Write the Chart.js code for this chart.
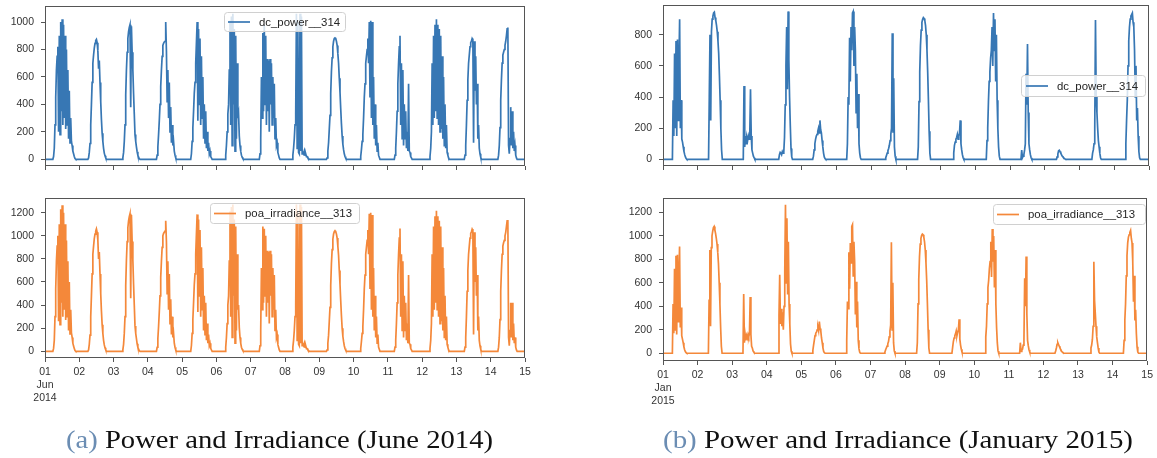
<!DOCTYPE html>
<html><head><meta charset="utf-8">
<script src="https://cdn.jsdelivr.net/npm/chart.js@4.4.1/dist/chart.umd.min.js"></script>
<style>
html,body{margin:0;padding:0;background:#fff;}
body{width:1157px;height:458px;overflow:hidden;position:relative;}
canvas{position:absolute;left:0;top:-30px;}
.cap{position:absolute;font-family:'Liberation Serif','Times New Roman',serif;font-size:26px;line-height:26px;white-space:nowrap;color:#111;transform-origin:0 0;}
.cap .lab{color:#6b8db3;}
</style></head>
<body>
<canvas id="cA" width="1157" height="488"></canvas>
<canvas id="cB" width="1157" height="488"></canvas>
<canvas id="cC" width="1157" height="488"></canvas>
<canvas id="cD" width="1157" height="488"></canvas>
<div class="cap" id="capA" data-w="427" style="left:66px;top:427px;"><span class="lab">(a)</span> Power and Irradiance (June 2014)</div>
<div class="cap" id="capB" data-w="470" style="left:663px;top:427px;"><span class="lab">(b)</span> Power and Irradiance (January 2015)</div>
<script>
// ---- DATA (each day: [first sample hour, values every half hour ...]) ----
const STEP_HOURS = 0.5;
const DAYS = 14;

const junPower = [
  [5.5, 0,20,80,250,450,650,750,820,200,900,180,1000,350,1020,250,980,300,900,220,800,250,650,150,500,120,300,130,100,60,40,20,5,0],
  [6, 0,10,50,115,250,400,560,700,760,810,845,865,873,850,790,660,720,560,420,290,190,130,80,45,25,10,0],
  [6, 0,10,50,130,250,470,650,780,880,930,960,980,380,970,780,650,480,330,180,130,90,55,30,15,5,0],
  [6, 0,30,90,180,280,400,530,650,750,830,845,855,860,1000,790,420,650,300,560,200,380,120,250,100,130,60,30,10,0],
  [6, 0,40,130,230,350,480,560,700,850,1000,280,950,400,880,250,750,300,600,150,400,120,350,80,200,60,120,40,60,20,10,0],
  [6, 0,30,100,200,330,400,650,1010,250,1040,100,1060,400,950,60,900,150,700,300,330,170,100,60,30,15,5,0],
  [6, 0,40,150,600,300,920,350,980,400,900,250,730,350,720,200,730,400,700,250,600,300,550,150,300,100,120,50,30,10,0],
  [5, 0,30,80,150,250,330,1060,80,1000,50,40,1060,60,1040,40,50,40,60,30,40,20,20,10,5,0],
  [5, 0,10,60,120,220,320,480,640,740,820,860,880,885,880,860,830,770,700,590,490,370,260,170,110,70,40,20,8,0],
  [4.5, 0,20,70,130,180,300,450,550,700,750,800,880,700,1000,450,1010,300,1000,250,600,150,400,100,250,60,120,30,15,0],
  [4.5, 0,30,80,200,350,550,700,820,900,250,700,150,650,100,400,150,350,80,200,60,550,60,50,20,10,0],
  [5, 0,20,80,200,700,250,900,300,980,350,1020,300,980,250,950,200,900,220,750,150,600,100,400,80,250,50,30,10,0],
  [5.5, 0,30,100,250,430,580,700,760,820,850,860,880,870,120,860,500,750,400,550,150,250,80,40,15,0],
  [5, 0,30,100,230,430,580,700,760,780,800,830,860,900,950,960,100,40,150,380,100,350,80,200,60,100,30,10,0]
];

const junIrradiance = [
  [5.5, 0,25,95,300,540,780,910,1000,260,1100,230,1230,420,1265,300,1200,360,1100,270,960,300,780,180,600,150,360,160,120,70,45,25,6,0],
  [6, 0,12,60,140,300,480,670,840,910,975,1015,1040,1060,1030,960,800,860,670,500,350,230,155,95,55,30,12,0],
  [6, 0,12,60,155,300,570,790,950,1070,1130,1165,1190,460,1180,950,790,580,400,220,155,110,65,35,18,6,0],
  [6, 0,35,110,215,340,480,640,780,900,1000,1020,1030,1040,1130,950,500,780,360,670,240,450,145,300,120,155,70,35,12,0],
  [6, 0,50,155,275,420,575,670,840,1020,1185,340,1140,480,1050,300,900,360,720,180,480,145,420,95,240,70,145,50,70,25,12,0],
  [6, 0,35,120,240,400,480,780,1210,300,1250,120,1270,480,1140,70,1080,180,840,360,400,205,120,70,35,18,6,0],
  [6, 0,48,180,720,360,1080,420,1060,480,1000,300,870,420,860,240,870,480,840,300,720,360,660,180,360,120,145,60,35,12,0],
  [5, 0,36,95,180,300,400,1270,95,1200,60,48,1270,70,1250,48,60,48,70,36,48,24,24,12,6,0],
  [5, 0,12,70,140,260,380,570,760,880,970,1015,1035,1044,1035,1015,980,910,830,700,580,440,310,200,130,85,48,24,10,0],
  [4.5, 0,24,85,155,215,360,540,660,840,900,960,1050,840,1190,540,1200,360,1180,300,720,180,480,120,300,70,145,36,18,0],
  [4.5, 0,36,95,240,420,660,840,980,1064,300,840,180,780,120,480,180,420,95,240,70,660,70,60,24,12,0],
  [5, 0,24,95,240,840,300,1080,360,1170,420,1217,360,1170,300,1130,240,1080,260,900,180,720,120,480,95,300,60,36,12,0],
  [5.5, 0,36,120,300,520,700,840,910,980,1020,1035,1058,1045,145,1030,600,900,480,660,180,300,95,48,18,0],
  [5, 0,36,120,275,520,700,840,910,940,960,1000,1030,1080,1130,1136,120,48,180,420,120,420,95,240,70,120,36,12,0]
];

const janPower = [
  [6.5, 0,380,150,680,200,760,150,770,250,600,900,200,380,130,110,80,50,30,15,5,0],
  [7.5, 0,400,800,250,820,900,920,940,945,910,890,860,820,760,680,540,380,200,60,0],
  [7.5, 0,470,80,150,100,140,120,150,130,160,450,150,60,40,20,10,0],
  [8, 0,30,45,40,30,50,40,45,140,350,600,850,450,950,640,400,220,70,15,0],
  [7.5, 0,20,60,100,130,150,160,180,200,170,250,190,170,120,80,40,15,5,0],
  [7, 0,100,400,350,780,500,850,700,940,950,600,850,700,300,550,200,420,100,40,10,0],
  [9.5, 0,10,25,40,55,70,90,120,160,200,810,170,520,80,20,0],
  [8, 0,80,370,560,730,830,880,900,910,905,890,860,800,700,560,380,180,40,0],
  [8.5, 0,40,90,110,130,140,160,130,150,170,250,100,60,30,10,0],
  [7.5, 0,120,200,370,500,560,650,700,850,600,940,700,900,500,800,380,200,80,20,0],
  [7.5, 0,60,10,20,30,60,100,550,350,740,300,100,60,30,10,0],
  [8, 0,15,35,55,58,50,40,30,22,15,10,5,2,0],
  [8.5, 0,40,60,100,200,895,400,300,200,120,80,40,10,0],
  [7.5, 0,100,250,380,600,760,850,900,920,930,940,880,850,700,400,600,250,330,150,50,10,0]
];

const janIrradiance = [
  [6.5, 0,420,170,720,200,830,160,840,270,650,910,220,390,150,120,90,55,30,15,5,0],
  [7.5, 0,450,880,230,900,1000,1040,1070,1080,1050,1020,980,930,860,760,600,420,220,60,0],
  [7.5, 0,505,90,160,110,150,130,160,140,170,480,160,60,45,20,10,0],
  [8, 0,320,668,250,380,230,350,200,400,700,1265,600,1150,500,950,420,250,80,18,0],
  [7.5, 0,25,70,110,150,170,180,200,220,190,270,210,190,130,90,45,15,5,0],
  [7, 0,110,440,380,860,550,940,770,1080,1095,660,950,780,330,610,220,440,110,40,10,0],
  [9.5, 0,10,30,45,60,80,100,140,190,240,945,200,600,90,20,0],
  [8, 0,90,420,630,820,930,980,1005,1015,1010,990,950,880,770,620,420,200,45,0],
  [8.5, 0,50,100,130,150,165,190,150,180,200,290,120,70,35,10,0],
  [7.5, 0,140,230,420,560,620,720,780,950,650,1058,780,1000,560,880,420,220,90,20,0],
  [7.5, 0,90,15,25,35,70,120,640,400,825,340,110,65,30,10,0],
  [8, 0,20,45,75,91,75,60,45,32,20,12,6,2,0],
  [8.5, 0,45,70,120,230,780,450,340,230,140,90,45,10,0],
  [7.5, 0,110,280,420,660,830,940,990,1010,1030,1046,980,940,780,440,660,280,370,170,55,10,0]
];

const junTickLabels = [['01','Jun','2014'],'02','03','04','05','06','07','08','09','10','11','12','13','14','15'];
const janTickLabels = [['01','Jan','2015'],'02','03','04','05','06','07','08','09','10','11','12','13','14','15'];
const xTickValues = [0,1,2,3,4,5,6,7,8,9,10,11,12,13,14];
const yTicksJunPower = [0,200,400,600,800,1000];
const yTicksJunIrr = [0,200,400,600,800,1000,1200];
const yTicksJanPower = [0,200,400,600,800];
const yTicksJanIrr = [0,200,400,600,800,1000,1200];

// ---- build points ----
function buildSeries(days){
  const pts = [{x:0, y:0}];
  days.forEach((d, i) => {
    const start = d[0];
    for (let k = 1; k < d.length; k++) {
      pts.push({x: i + (start + (k - 1) * STEP_HOURS) / 24, y: d[k]});
    }
  });
  pts.push({x: DAYS, y: 0});
  return pts;
}

const OFF = 30;            // canvas is shifted up by OFF px
const CANVAS_H = 488;
const BLUE = '#3777b4';
const ORANGE = '#f4883a';
const TICK_FONT = {family: "'Liberation Sans', Arial, sans-serif", size: 10.5};
const XTICK_FONT = {family: "'Liberation Sans', Arial, sans-serif", size: 10.5, lineHeight: 1.22};

const framePlugin = {
  id: 'frameLegend',
  afterDatasetsDraw(chart, args, opts) {
    const ctx = chart.ctx, a = chart.chartArea;
    ctx.save();
    ctx.strokeStyle = '#555';
    ctx.lineWidth = 1;
    ctx.strokeRect(Math.round(a.left) + 0.5, Math.round(a.top) + 0.5, Math.round(a.right - a.left) - 1, Math.round(a.bottom - a.top) - 1);
    const ds = chart.data.datasets[0];
    const b = opts.box;
    const by = b.y + OFF;
    ctx.beginPath();
    ctx.roundRect(b.x + 0.5, by + 0.5, b.w, b.h, 3);
    ctx.fillStyle = 'rgba(255,255,255,0.8)';
    ctx.fill();
    ctx.strokeStyle = '#d0d0d0';
    ctx.stroke();
    const cy = by + b.h / 2 + 0.5;
    ctx.beginPath();
    ctx.moveTo(b.lx0, cy); ctx.lineTo(b.lx1, cy);
    ctx.strokeStyle = ds.borderColor; ctx.lineWidth = 1.7; ctx.stroke();
    ctx.fillStyle = '#262626';
    ctx.font = "11.4px 'Liberation Sans', Arial, sans-serif";
    ctx.textBaseline = 'middle';
    ctx.fillText(ds.label, b.tx, cy + 0.5);
    ctx.restore();
  }
};

function makeChart(id, o) {
  const yW = 40;
  const xH = o.labels ? 45 : 8;
  new Chart(document.getElementById(id), {
    type: 'line',
    data: {datasets: [{
      label: o.label, data: buildSeries(o.days), borderColor: o.color,
      borderWidth: 1.7, pointRadius: 0, tension: 0, fill: false
    }]},
    options: {
      responsive: false, animation: false, events: [],
      layout: {padding: {left: o.area.left - yW, top: o.area.top + OFF, right: 1157 - o.area.right, bottom: CANVAS_H - OFF - o.area.bottom - xH}},
      plugins: {legend: {display: false}, tooltip: {enabled: false}, frameLegend: {box: o.legend}},
      scales: {
        x: {
          type: 'linear', min: 0, max: DAYS,
          afterBuildTicks: s => { s.ticks = xTickValues.map(v => ({value: v})); },
          afterFit: s => { s.height = xH; },
          ticks: {display: !!o.labels, autoSkip: false, maxRotation: 0, padding: 4, color: '#333',
                  font: XTICK_FONT, callback: (v, i) => o.labels ? o.labels[i] : ''},
          grid: {drawOnChartArea: false, drawTicks: true, tickLength: 4, tickColor: '#555', tickWidth: 1},
          border: {display: false}
        },
        y: {
          min: o.yMin, max: o.yMax,
          afterBuildTicks: s => { s.ticks = o.yTicks.map(v => ({value: v})); },
          afterFit: s => { s.width = yW; },
          ticks: {padding: 7, color: '#333', font: TICK_FONT, callback: v => String(v)},
          grid: {drawOnChartArea: false, drawTicks: true, tickLength: 4, tickColor: '#555', tickWidth: 1},
          border: {display: false}
        }
      }
    },
    plugins: [framePlugin]
  });
}

makeChart('cA', {label: 'dc_power__314', days: junPower, color: BLUE, yTicks: yTicksJunPower, yMin: -49, yMax: 1117,
  area: {left: 45, top: 6, right: 525, bottom: 166},
  legend: {x: 224, y: 12, w: 121, h: 19, lx0: 228, lx1: 250, tx: 259}});
makeChart('cB', {label: 'poa_irradiance__313', days: junIrradiance, color: ORANGE, yTicks: yTicksJunIrr, yMin: -58, yMax: 1327,
  area: {left: 45, top: 198, right: 525, bottom: 358}, labels: junTickLabels,
  legend: {x: 210, y: 203, w: 149, h: 20, lx0: 214, lx1: 236, tx: 245}});
makeChart('cC', {label: 'dc_power__314', days: janPower, color: BLUE, yTicks: yTicksJanPower, yMin: -43, yMax: 991,
  area: {left: 663, top: 5, right: 1149, bottom: 166},
  legend: {x: 1021, y: 75, w: 124, h: 21, lx0: 1026, lx1: 1048, tx: 1057}});
makeChart('cD', {label: 'poa_irradiance__313', days: janIrradiance, color: ORANGE, yTicks: yTicksJanIrr, yMin: -66, yMax: 1323,
  area: {left: 663, top: 198, right: 1149, bottom: 361}, labels: janTickLabels,
  legend: {x: 993, y: 204, w: 152, h: 20, lx0: 997, lx1: 1019, tx: 1028}});

document.querySelectorAll('.cap').forEach(el => {
  const w = el.getBoundingClientRect().width;
  el.style.transform = 'scaleX(' + (parseFloat(el.dataset.w) / w) + ')';
});
</script>
</body></html>
